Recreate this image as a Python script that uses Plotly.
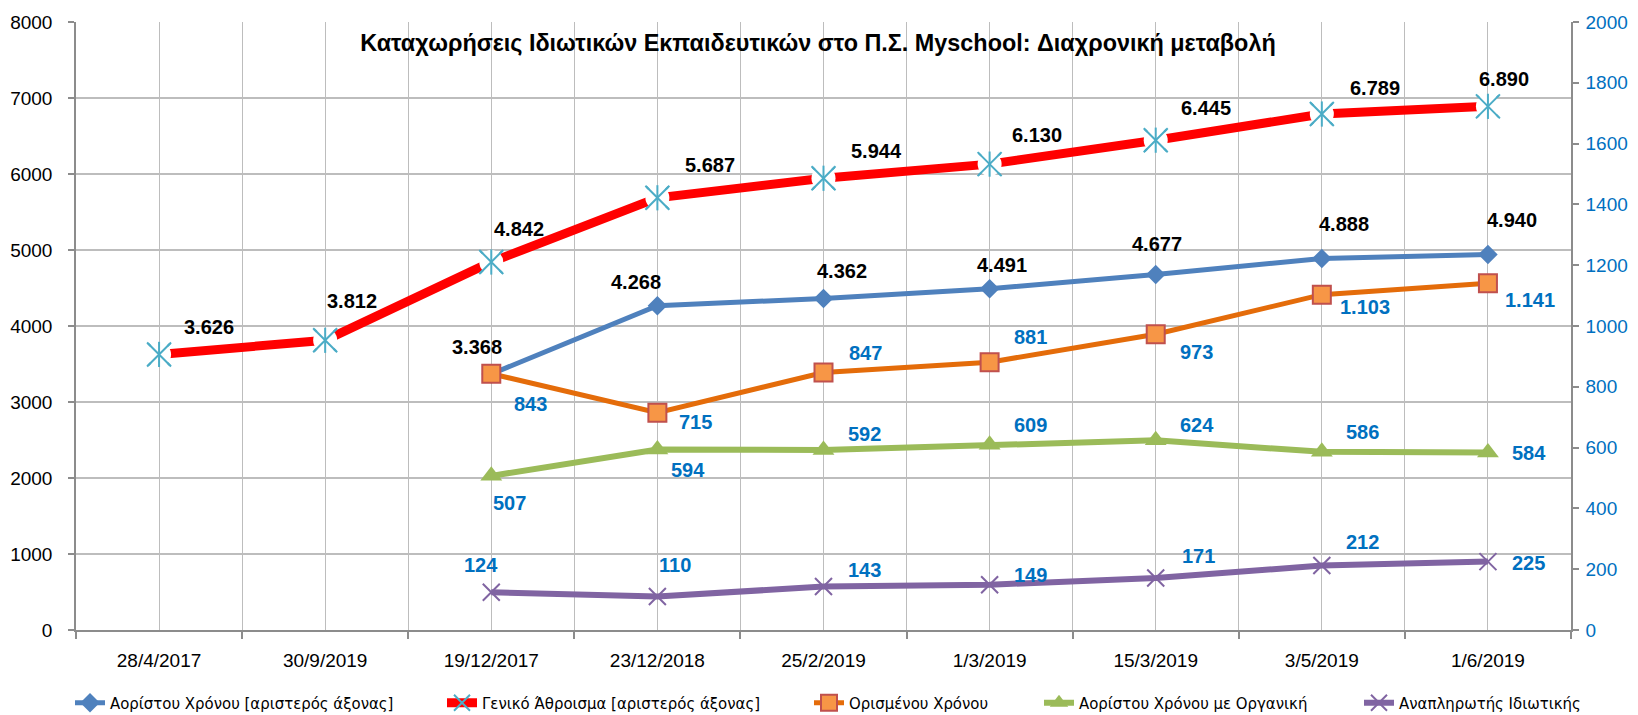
import plotly.graph_objects as go

# ---------------- data ----------------
categories = ["28/4/2017", "30/9/2019", "19/12/2017", "23/12/2018", "25/2/2019",
              "1/3/2019", "15/3/2019", "3/5/2019", "1/6/2019"]
aoristou = [None, None, 3368, 4268, 4362, 4491, 4677, 4888, 4940]          # left axis
geniko = [3626, 3812, 4842, 5687, 5944, 6130, 6445, 6789, 6890]            # left axis
orismenou = [None, None, 843, 715, 847, 881, 973, 1103, 1141]              # right axis
organiki = [None, None, 507, 594, 592, 609, 624, 586, 584]                 # right axis
anaplirotis = [None, None, 124, 110, 143, 149, 171, 212, 225]              # right axis

names = ["Αορίστου Χρόνου [αριστερός άξονας]", "Γενικό Άθροισμα [αριστερός άξονας]",
         "Ορισμένου Χρόνου", "Αορίστου Χρόνου με Οργανική", "Αναπληρωτής Ιδιωτικής"]
title = "Καταχωρήσεις Ιδιωτικών Εκπαιδευτικών στο Π.Σ. Myschool: Διαχρονική μεταβολή"

# ---------------- label offsets (px: right, down) ----------------
off_geniko = [(50, -27), (27, -39), (28, -33), (53, -33), (53, -27), (47, -29), (50, -32), (53, -26), (16, -27)]
off_aoristou = [None, None, (-14, -27), (-21, -24), (18, -27), (12, -24), (1, -31), (22, -35), (24, -35)]
off_orismenou = [None, None, (39, 30), (38, 9), (42, -20), (41, -25), (41, 18), (43, 12), (42, 17)]
off_organiki = [None, None, (18, 27), (31, 21), (41, -16), (41, -20), (41, -15), (41, -20), (41, 1)]
off_anapl = [None, None, (-10, -27), (18, -32), (41, -17), (41, -10), (43, -22), (41, -24), (41, 1)]

# page body has an 8px margin: compensate so that the figure lands where the original is
PAGE = 8
W, H = 1638 - PAGE, 715 - PAGE
legend_text_x = [112, 484, 851, 1081, 1401]   # where each legend entry's text starts (window px)
LEGEND_Y = 703
TITLE_X, TITLE_Y = 818, 43

BLUE = "#4F81BD"
RED = "#FF0000"
CYAN = "#4BACC6"
ORANGE = "#E46C0A"
ORANGE_FILL = "#F79646"
ORANGE_EDGE = "#C0504D"
GREEN = "#9BBB59"
PURPLE = "#8064A2"
LBLUE = "#0070C0"
GRID = "#BDBDBD"
AXIS = "#8C8C8C"

xs = list(range(len(categories)))
legend_ids = ["legend", "legend2", "legend3", "legend4", "legend5"]

fig = go.Figure()

fig.add_trace(go.Scatter(x=xs, y=aoristou, name=names[0], mode="lines+markers",
                         line=dict(color=BLUE, width=5),
                         marker=dict(symbol="diamond", size=15, color=BLUE),
                         yaxis="y", legend=legend_ids[0]))

fig.add_trace(go.Scatter(x=xs, y=geniko, name=names[1], mode="lines+markers",
                         line=dict(color=RED, width=9),
                         marker=dict(symbol="x-thin-open", size=22, color=CYAN,
                                     line=dict(width=2, color=CYAN)),
                         yaxis="y", legend=legend_ids[1]))
# white knock-out behind the star markers (breaks the thick line like the original)
fig.add_trace(go.Scatter(x=xs, y=geniko, mode="markers", showlegend=False, hoverinfo="skip",
                         marker=dict(symbol="circle", size=24, color="white"), yaxis="y"))
fig.add_trace(go.Scatter(x=xs, y=geniko, mode="markers", showlegend=False, hoverinfo="skip",
                         marker=dict(symbol="x-thin-open", size=24, color=CYAN,
                                     line=dict(width=2, color=CYAN)), yaxis="y"))
fig.add_trace(go.Scatter(x=xs, y=geniko, mode="markers", showlegend=False, hoverinfo="skip",
                         marker=dict(symbol="line-ns-open", size=18, color=CYAN,
                                     line=dict(width=2, color=CYAN)), yaxis="y"))

fig.add_trace(go.Scatter(x=xs, y=orismenou, name=names[2], mode="lines+markers",
                         line=dict(color=ORANGE, width=5),
                         marker=dict(symbol="square", size=18, color=ORANGE_FILL,
                                     line=dict(width=2, color=ORANGE_EDGE)),
                         yaxis="y2", legend=legend_ids[2]))
fig.add_trace(go.Scatter(x=xs, y=organiki, name=names[3], mode="lines+markers",
                         line=dict(color=GREEN, width=6),
                         marker=dict(symbol="triangle-up", size=19, color=GREEN),
                         yaxis="y2", legend=legend_ids[3]))
fig.add_trace(go.Scatter(x=xs, y=anaplirotis, name=names[4], mode="lines+markers",
                         line=dict(color=PURPLE, width=6),
                         marker=dict(symbol="x-thin-open", size=17, color=PURPLE,
                                     line=dict(width=2, color=PURPLE)),
                         yaxis="y2", legend=legend_ids[4]))


def fmt(v):
    return f"{v:,}".replace(",", ".")


annotations = []


def add_labels(values, offsets, yref, color):
    for i, v in enumerate(values):
        if v is None:
            continue
        dx, dy = offsets[i]
        annotations.append(dict(x=xs[i], y=v, xref="x", yref=yref, text="<b>" + fmt(v) + "</b>",
                                showarrow=False, xshift=dx, yshift=-dy,
                                xanchor="center", yanchor="middle",
                                font=dict(family="Liberation Sans", size=20, color=color)))


add_labels(geniko, off_geniko, "y", "black")
add_labels(aoristou, off_aoristou, "y", "black")
add_labels(orismenou, off_orismenou, "y2", LBLUE)
add_labels(organiki, off_organiki, "y2", LBLUE)
add_labels(anaplirotis, off_anapl, "y2", LBLUE)

legend_font = dict(family="Liberation Sans Narrow, DejaVu Sans Condensed", size=16.6, color="black")
legends = {}
for lid, tx in zip(legend_ids, legend_text_x):
    legends[lid] = dict(orientation="h", xref="container", yref="container",
                        x=(tx - PAGE - 42) / W, xanchor="left",
                        y=1 - (LEGEND_Y - PAGE) / H, yanchor="middle",
                        font=legend_font, bgcolor="rgba(0,0,0,0)", borderwidth=0)

fig.update_layout(
    width=W, height=H,
    paper_bgcolor="white", plot_bgcolor="white",
    margin=dict(l=76 - PAGE, r=67, t=22 - PAGE, b=85, autoexpand=False),
    font=dict(family="Liberation Sans", size=19, color="black"),
    title=dict(text="<b>" + title + "</b>", x=(TITLE_X - PAGE) / W, xref="container", xanchor="center",
               y=1 - (TITLE_Y - PAGE) / H, yref="container", yanchor="middle",
               font=dict(family="Liberation Sans", size=23.4, color="black")),
    showlegend=True,
    annotations=annotations,
    xaxis=dict(range=[-0.5, 8.5], tickmode="array", tickvals=xs, ticktext=categories,
               ticks="", showgrid=True, gridcolor=GRID, gridwidth=1.3,
               showline=True, linecolor=AXIS, linewidth=1.5, zeroline=False,
               tickfont=dict(size=19), ticklabelstandoff=12, automargin=False,
               minor=dict(tickmode="array", tickvals=[i - 0.5 for i in range(len(categories) + 1)],
                          ticks="outside", ticklen=7, tickcolor=AXIS, tickwidth=1.5,
                          showgrid=True, gridcolor=GRID, gridwidth=1.3),
               fixedrange=True),
    yaxis=dict(range=[0, 8000], dtick=1000, tick0=0, showgrid=True, gridcolor=GRID, gridwidth=1.5,
               showline=True, linecolor=AXIS, linewidth=1.5, ticks="outside", ticklen=6,
               tickcolor=AXIS, tickwidth=1.5, zeroline=False, tickfont=dict(size=19),
               ticklabelstandoff=12, automargin=False, fixedrange=True),
    yaxis2=dict(range=[0, 2000], dtick=200, tick0=0, overlaying="y", side="right",
                showgrid=False, showline=True, linecolor=AXIS, linewidth=1.5,
                ticks="outside", ticklen=6, tickcolor=AXIS, tickwidth=1.5, zeroline=False,
                tickfont=dict(size=19, color=LBLUE), ticklabelstandoff=3,
                automargin=False, fixedrange=True),
    **legends,
)

fig.write_html("out.html")
